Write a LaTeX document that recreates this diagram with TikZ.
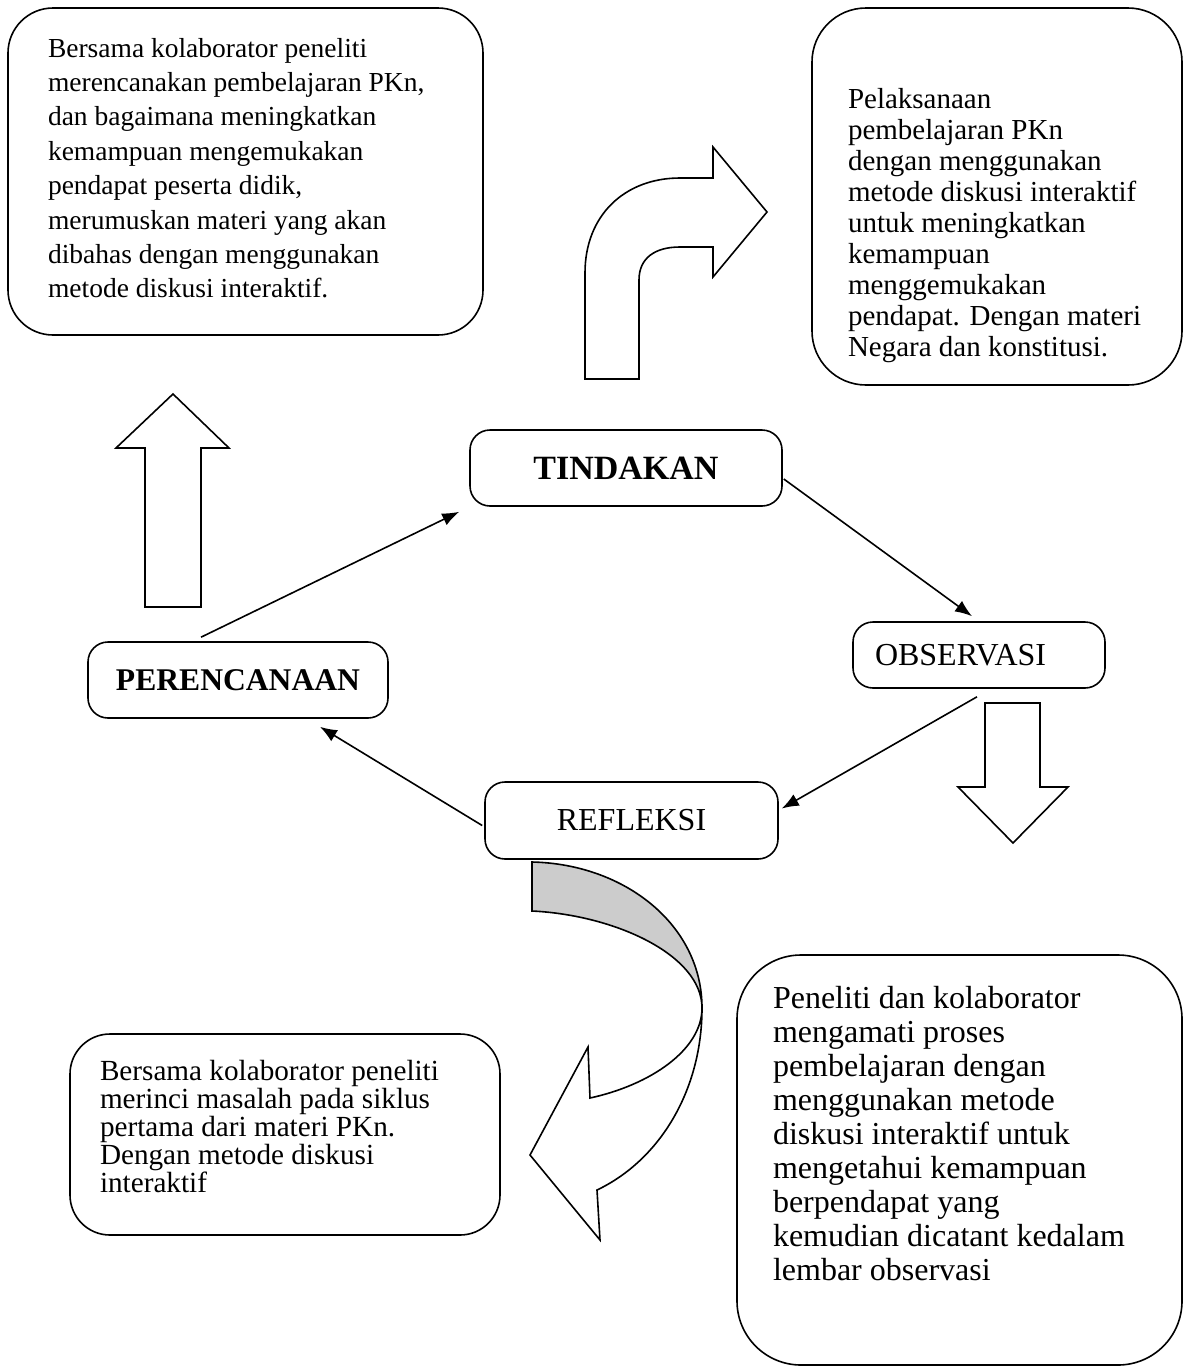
\documentclass[tikz,border=0pt]{standalone}
\usepackage{fontspec}
\setmainfont{Liberation Serif}
\usetikzlibrary{calc,arrows.meta}
\begin{document}
\begin{tikzpicture}[x=0.5pt, y=-0.5pt, line width=0.8pt,
  box/.style={draw, rounded corners=#1, inner sep=0pt},
  box/.default=10pt,
  body/.style={anchor=north west, inner sep=0pt, align=left},
  stage/.style={font=\fontsize{16}{19}\selectfont},
  flow/.style={-{Latex[length=8.5pt,width=6.5pt]}},
  blockarrow/.style={draw, fill=white, line join=miter}]
\useasboundingbox (0,0) rectangle (1186,1371);
% text boxes
\node[box=22.5pt, minimum width=237.5pt, minimum height=163.5pt] (plantop) at (245.5,171.5) {};
\node[body, font=\fontsize{13.75}{17.2}\selectfont] (plantext) at ($(plantop.north west)+(40,30)$)
  {Bersama kolaborator peneliti\\merencanakan pembelajaran PKn,\\dan bagaimana meningkatkan\\kemampuan mengemukakan\\pendapat peserta didik,\\merumuskan materi yang akan\\dibahas dengan menggunakan\\metode diskusi interaktif.};
\node[box=27pt, minimum width=185pt, minimum height=188.5pt] (acttop) at (997,196.5) {};
\node[body, font=\fontsize{14.5}{15.5}\selectfont] (acttext) at ($(acttop.north west)+(36,80)$)
  {Pelaksanaan\\pembelajaran PKn\\dengan menggunakan\\metode diskusi interaktif\\untuk meningkatkan\\kemampuan\\menggemukakan\\pendapat. Dengan materi\\Negara dan konstitusi.};
\node[box=20pt, minimum width=215pt, minimum height=100.5pt] (refbot) at (285,1134.5) {};
\node[body, font=\fontsize{14.6}{14}\selectfont] (reftext) at ($(refbot.north west)+(30,26)$)
  {Bersama kolaborator peneliti\\merinci masalah pada siklus\\pertama dari materi PKn.\\Dengan metode diskusi\\interaktif};
\node[box=32pt, minimum width=222.5pt, minimum height=205pt] (obsbot) at (959.5,1160) {};
\node[body, font=\fontsize{16}{17}\selectfont] (obstext) at ($(obsbot.north west)+(36,31)$)
  {Peneliti dan kolaborator\\mengamati proses\\pembelajaran dengan\\menggunakan metode\\diskusi interaktif untuk\\mengetahui kemampuan\\berpendapat yang\\kemudian dicatant kedalam\\lembar observasi};
% cycle
\node[box, minimum width=156pt, minimum height=38pt, font=\fontsize{17}{20}\selectfont\bfseries] (tind) at (626,468) {TINDAKAN};
\node[box, minimum width=150pt, minimum height=38pt, font=\fontsize{15.8}{19}\selectfont\bfseries] (plan) at (238,680) {PERENCANAAN};
\node[box, stage, minimum width=126pt, minimum height=33pt, text width=104pt, align=left, inner xsep=11pt] (obs) at (979,655) {OBSERVASI};
\node[box, stage, minimum width=146.5pt, minimum height=38.5pt] (refl) at (631.5,820.5) {REFLEKSI};
\draw[flow] ($(plan.north)+(-37,-4)$) -- ($(tind.south west)+(-10,5)$);
\draw[flow] ($(tind.east)+(1,11)$) -- ($(obs.north)+(-7,-5)$);
\draw[flow] ($(obs.south)+(-2,8)$) -- ($(refl.east)+(3,-12)$);
\draw[flow] ($(refl.west)+(-2,5)$) -- ($(plan.south)+(82,8)$);
% block arrows
\draw[blockarrow] (145,607) -- (145,448) -- (116,448) -- (173,394) -- (229,448) -- (201,448) -- (201,607) -- cycle;
\draw[blockarrow] (585,379) -- (585,273) .. controls (585,215) and (625,178) .. (680,178) -- (713,178) -- (713,147)
  -- (767,212) -- (713,277) -- (713,247) -- (680,247) .. controls (655,247) and (639,258) .. (639,280) -- (639,379) -- cycle;
\draw[blockarrow] (985,703) -- (1040,703) -- (1040,787) -- (1068,787) -- (1013,843) -- (958,787) -- (985,787) -- cycle;
\draw[blockarrow] (702,1008) .. controls (702,1090) and (660,1160) .. (597,1190) -- (600,1240) -- (530,1155) -- (588,1047)
  -- (590,1098) .. controls (650,1085) and (702,1050) .. (702,1008) -- cycle;
\draw[blockarrow, fill=black!20] (532,862) .. controls (625,864) and (702,925) .. (702,1008)
  .. controls (702,955) and (615,915) .. (532,911) -- cycle;
\end{tikzpicture}
\end{document}
